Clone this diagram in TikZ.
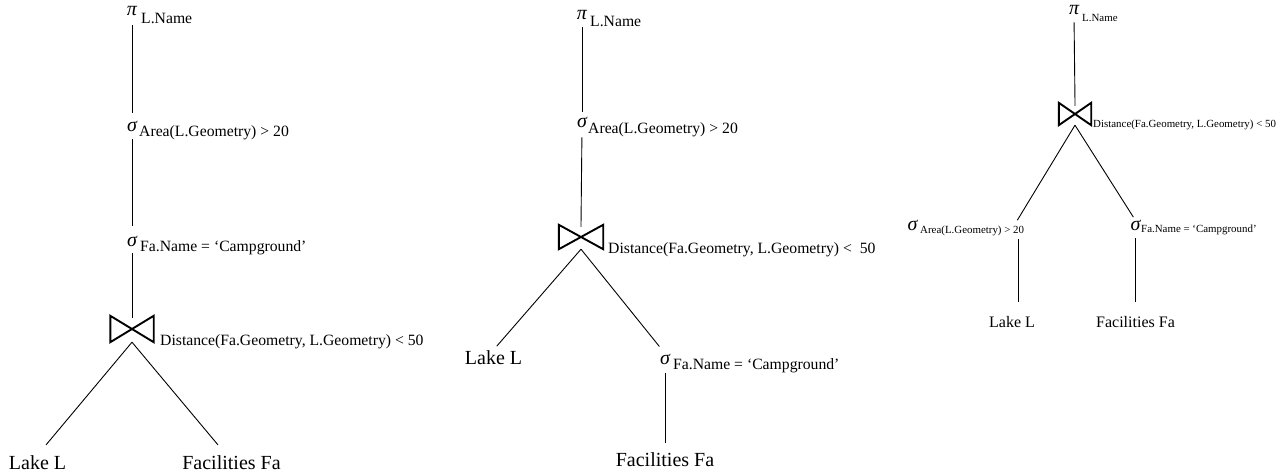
\documentclass[tikz,border=0pt]{standalone}
\usepackage{fontspec}
\setmainfont{Liberation Serif}
\begin{document}
\begin{tikzpicture}[x=1pt,y=-1pt,
  op/.style={inner sep=0pt, anchor=base, font=\fontsize{20}{20}\selectfont\itshape},
  sub/.style={inner sep=0pt, anchor=base west, font=\fontsize{15.7}{16}\selectfont},
  subsmall/.style={inner sep=0pt, anchor=base west, font=\fontsize{10.9}{11}\selectfont},
  leaf/.style={inner sep=0pt, anchor=base, font=\fontsize{20}{20}\selectfont},
  leafsmall/.style={inner sep=0pt, anchor=base, font=\fontsize{16}{16}\selectfont},
  edge/.style={line width=0.9pt},
  bowtie/.style={line width=1.9pt, line join=miter}
]
\useasboundingbox (0,0) rectangle (1286,473);

% ---------------- Tree 1 ----------------
\node[op] (p1) at (132,16) {π};
\node[sub] (p1l) at (141,24) {L.Name};
\node[op] (s1) at (132,132) {σ};
\node[sub] (s1l) at (139,137) {Area(L.Geometry) > 20};
\node[op] (s2) at (132,247) {σ};
\node[sub] (s2l) at (140,252) {Fa.Name = ‘Campground’};
\node[inner sep=0pt, minimum width=43pt, minimum height=26pt] (j1) at (132,329) {};
\node[sub] (j1l) at (160,345) {Distance(Fa.Geometry, L.Geometry) < 50};
\node[leaf] (l1) at (37.5,469) {Lake L};
\node[leaf] (f1) at (231.5,469) {Facilities Fa};

\draw[bowtie] (j1.north west) -- (j1.south east) -- (j1.north east) -- (j1.south west) -- cycle;
\draw[edge, shorten <=9pt, shorten >=8pt] (p1.south) -- (s1.north);
\draw[edge, shorten <=7pt, shorten >=10pt] (s1.south) -- (s2.north);
\draw[edge, shorten <=6pt, shorten >=-2pt] (s2.south) -- (j1.north);
\draw[edge] (j1.south) -- ([xshift=8.5pt,yshift=10pt]l1.north);
\draw[edge] (j1.south) -- ([xshift=-13.5pt,yshift=10pt]f1.north);

% ---------------- Tree 2 ----------------
\node[op] (p2) at (582,20) {π};
\node[sub] (p2l) at (590,27) {L.Name};
\node[op] (s3) at (582,128) {σ};
\node[sub] (s3l) at (588,134) {Area(L.Geometry) > 20};
\node[inner sep=0pt, minimum width=44pt, minimum height=24pt] (j2) at (581,237) {};
\node[sub] (j2l) at (608,254) {Distance(Fa.Geometry, L.Geometry) <~~50};
\node[leaf] (l2) at (493.5,364) {Lake L};
\node[op] (s4) at (665,364) {σ};
\node[sub] (s4l) at (673,369) {Fa.Name = ‘Campground’};
\node[leaf] (f2) at (665,466) {Facilities Fa};

\draw[bowtie] (j2.north west) -- (j2.south east) -- (j2.north east) -- (j2.south west) -- cycle;
\draw[edge, shorten <=7pt, shorten >=5pt] (p2.south) -- (s3.north);
\draw[edge, shorten <=9pt, shorten >=-2pt] (s3.south) -- (j2.north);
\draw[edge, shorten >=5pt] (j2.south) -- (l2.north);
\draw[edge, shorten >=9pt] (j2.south) -- (s4.north);
\draw[edge, shorten <=9pt, shorten >=9pt] (s4.south) -- (f2.north);

% ---------------- Tree 3 ----------------
\node[op] (p3) at (1074,15) {π};
\node[subsmall] (p3l) at (1082,22) {L.Name};
\node[inner sep=0pt, minimum width=32pt, minimum height=22pt] (j3) at (1075,114) {};
\node[subsmall] (j3l) at (1093,128) {Distance(Fa.Geometry, L.Geometry) < 50};
\node[op] (s5) at (912.5,231) {σ};
\node[subsmall] (s5l) at (920,234) {Area(L.Geometry) > 20};
\node[op] (s6) at (1135.5,231) {σ};
\node[subsmall] (s6l) at (1141,233) {Fa.Name = ‘Campground’};
\node[leafsmall] (l3) at (1012,327) {Lake L};
\node[leafsmall] (f3) at (1135.5,327) {Facilities Fa};

\draw[bowtie] (j3.north west) -- (j3.south east) -- (j3.north east) -- (j3.south west) -- cycle;
\draw[edge, shorten <=7pt, shorten >=-3pt] (p3.south) -- (j3.north);
\draw[edge] (j3.south) -- ([xshift=-7pt,yshift=6pt]s5l.north east);
\draw[edge, shorten >=4pt] (j3.south) -- (s6.north);
\draw[edge, shorten >=14pt] ([xshift=-6pt,yshift=-2pt]s5l.south east) -- ([xshift=-6pt]s5l.south east |- l3.north);
\draw[edge, shorten <=7pt, shorten >=14pt] (s6.south) -- (f3.north);
\end{tikzpicture}
\end{document}
